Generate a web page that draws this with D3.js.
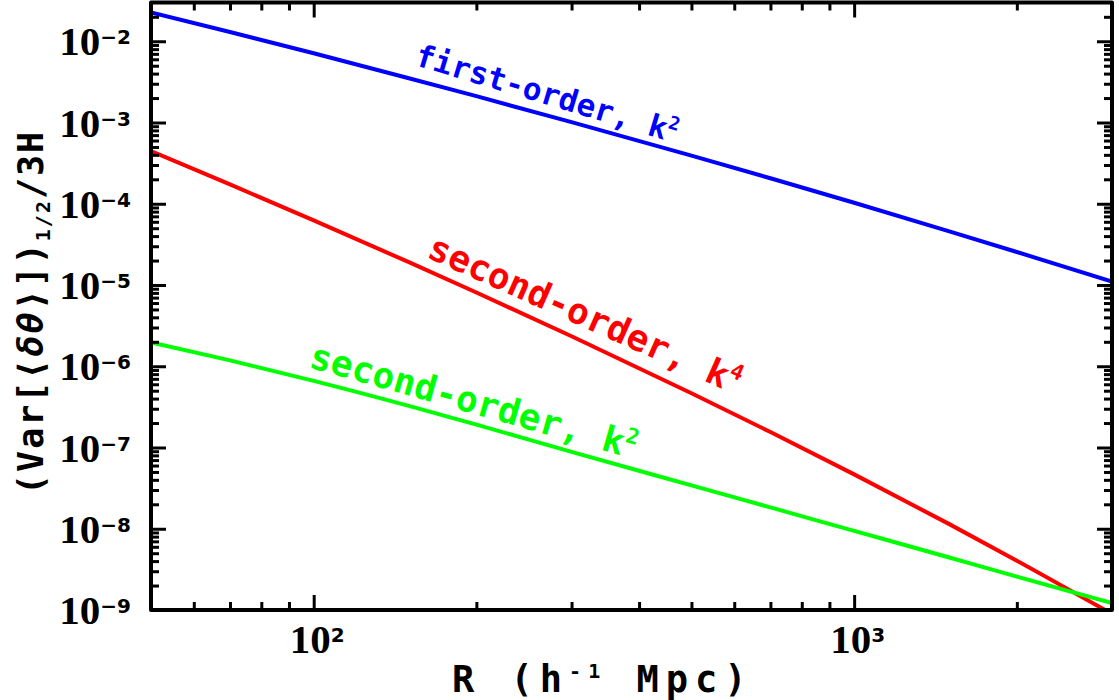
<!DOCTYPE html>
<html>
<head>
<meta charset="utf-8">
<script src="https://cdn.jsdelivr.net/npm/d3@7/dist/d3.min.js"></script>
<style>
  body{margin:0;background:#fff}
  svg{display:block}
</style>
</head>
<body>
<div id="chart"></div>
<script>
'use strict';
// R in h^-1 Mpc
const radii = [50, 70, 100, 150, 200, 300, 500, 700, 1000, 1500, 2000, 3000];
const firstOrderK2 = [2.26e-2, 1.30e-2, 7.11e-3, 3.51e-3, 2.11e-3, 1.01e-3, 3.92e-4, 2.06e-4, 1.03e-4, 4.58e-5, 2.55e-5, 1.10e-5];
const secondOrderK4 = [4.46e-4, 1.73e-4, 6.24e-5, 1.91e-5, 8.09e-6, 2.34e-6, 4.66e-7, 1.55e-7, 4.67e-8, 1.14e-8, 4.05e-9, 8.95e-10];
const secondOrderK2 = [1.96e-6, 1.18e-6, 6.61e-7, 3.25e-7, 1.91e-7, 8.85e-8, 3.42e-8, 1.83e-8, 9.42e-9, 4.43e-9, 2.58e-9, 1.22e-9];

const seriesNames = ['first-order, k', 'second-order, k', 'second-order, k'];
const seriesPowers = ['2', '4', '2'];
const seriesColors = ['#0000ff', '#ff0000', '#00ff00'];

const xMajorExps = [2, 3];
const yMajorExps = [-2, -3, -4, -5, -6, -7, -8, -9];

const W = 1119, H = 700;
const pLeft = 151, pRight = 1112, pTop = 2.5, pBottom = 610;
const MONO = '"DejaVu Sans Mono", monospace';
const SERIF = '"Liberation Serif", "Times New Roman", serif';
const SUPF = '"DejaVu Sans", sans-serif';

const svg = d3.select('#chart').append('svg')
  .attr('width', W).attr('height', H)
  .attr('viewBox', `0 0 ${W} ${H}`);

const x = d3.scaleLog().domain([50, 3000]).range([pLeft, pRight]);
const y = d3.scaleLog().domain([1e-9, 3e-2]).range([pBottom, pTop]);

svg.append('clipPath').attr('id', 'plotclip')
  .append('rect').attr('x', pLeft).attr('y', pTop)
  .attr('width', pRight - pLeft).attr('height', pBottom - pTop);

// curves
const series = [firstOrderK2, secondOrderK4, secondOrderK2];
const line = d3.line()
  .x(d => x(d[0])).y(d => y(d[1]))
  .curve(d3.curveMonotoneX);

svg.append('g').attr('clip-path', 'url(#plotclip)')
  .selectAll('path').data(series).join('path')
  .attr('d', vals => line(radii.map((r, i) => [r, vals[i]])))
  .attr('fill', 'none')
  .attr('stroke', (d, i) => seriesColors[i])
  .attr('stroke-width', 4);

// ticks (inward on all four sides)
const xMinor = d3.range(1, 4).flatMap(e => d3.range(2, 10).map(m => m * 10 ** e))
  .filter(v => v > 50 && v < 3000);
const yMinor = d3.range(-9, -1).flatMap(e => d3.range(2, 10).map(m => m * 10 ** e))
  .filter(v => v > 1e-9 && v < 3e-2);
const xMajor = xMajorExps.map(e => 10 ** e);
const yMajor = yMajorExps.map(e => 10 ** e);

const addAxis = (axisFn, scale, vals, size, transform) => {
  const g = svg.append('g').attr('transform', transform)
    .call(axisFn(scale).tickValues(vals).tickSize(-size).tickFormat(''));
  g.select('.domain').remove();
  g.selectAll('.tick line').attr('stroke', '#000').attr('stroke-width', 3);
};
[[xMajor, 15], [xMinor, 8]].forEach(([vals, size]) => {
  addAxis(d3.axisBottom, x, vals, size, `translate(0,${pBottom})`);
  addAxis(d3.axisTop, x, vals, size, `translate(0,${pTop})`);
});
[[yMajor, 15], [yMinor, 8]].forEach(([vals, size]) => {
  addAxis(d3.axisLeft, y, vals, size, `translate(${pLeft},0)`);
  addAxis(d3.axisRight, y, vals, size, `translate(${pRight},0)`);
});

svg.append('rect')
  .attr('x', pLeft).attr('y', pTop)
  .attr('width', pRight - pLeft).attr('height', pBottom - pTop)
  .attr('fill', 'none').attr('stroke', '#000').attr('stroke-width', 4)
  .attr('stroke-linejoin', 'round');

// tick labels
const power = (sel, exp) => {
  sel.append('tspan').attr('font-family', SERIF).attr('font-size', 41).text('10');
  sel.append('tspan').attr('font-family', SUPF).attr('font-size', 20).attr('dy', -11)
    .text(String(exp).replace('-', '\u2212'));
};

svg.append('g').selectAll('text').data(yMajorExps).join('text')
  .attr('x', 131).attr('y', e => y(10 ** e) + 14)
  .attr('text-anchor', 'end').attr('font-weight', 'bold')
  .each(function (e) { power(d3.select(this), e); });

svg.append('g').selectAll('text').data(xMajorExps).join('text')
  .attr('x', e => x(10 ** e) - 24).attr('y', 653)
  .attr('font-weight', 'bold')
  .each(function (e) { power(d3.select(this), e); });

// axis titles
const xt = svg.append('text')
  .attr('x', 452).attr('y', 692)
  .attr('font-family', MONO).attr('font-size', 37).attr('font-weight', 'bold')
  .attr('letter-spacing', 7);
xt.append('tspan').text('R (h');
xt.append('tspan').attr('font-size', 20).attr('dy', -14).text('-1');
xt.append('tspan').attr('dy', 14).text(' Mpc)');

const yt = svg.append('text')
  .attr('transform', 'translate(43,495) rotate(-90)')
  .attr('font-family', MONO).attr('font-size', 35).attr('font-weight', 'bold')
  .attr('letter-spacing', 2);
yt.append('tspan').text('(Var[\u27E8');
yt.append('tspan').attr('font-style', 'italic').text('\u03B4\u03B8');
yt.append('tspan').text('\u27E9])');
yt.append('tspan').attr('font-size', 20).attr('dy', 7).text('1/2');
yt.append('tspan').attr('dy', -7).text('/3H');

// curve labels, anchored in data space
const labelAt = [[153, 5.15e-3, 16.7, 31], [161, 2.22e-5, 24, 36], [97.5, 9.8e-7, 15.8, 36]];
labelAt.forEach(([r, v, ang, fs], i) => {
  const t = svg.append('text')
    .attr('transform', `translate(${x(r)},${y(v)}) rotate(${ang})`)
    .attr('font-family', MONO).attr('font-size', fs).attr('font-weight', 'bold')
    .attr('fill', seriesColors[i]);
  t.append('tspan').text(seriesNames[i]);
  t.append('tspan').attr('font-size', fs * 0.6).attr('dy', -fs * 0.4).text(seriesPowers[i]);
});
</script>
</body>
</html>
